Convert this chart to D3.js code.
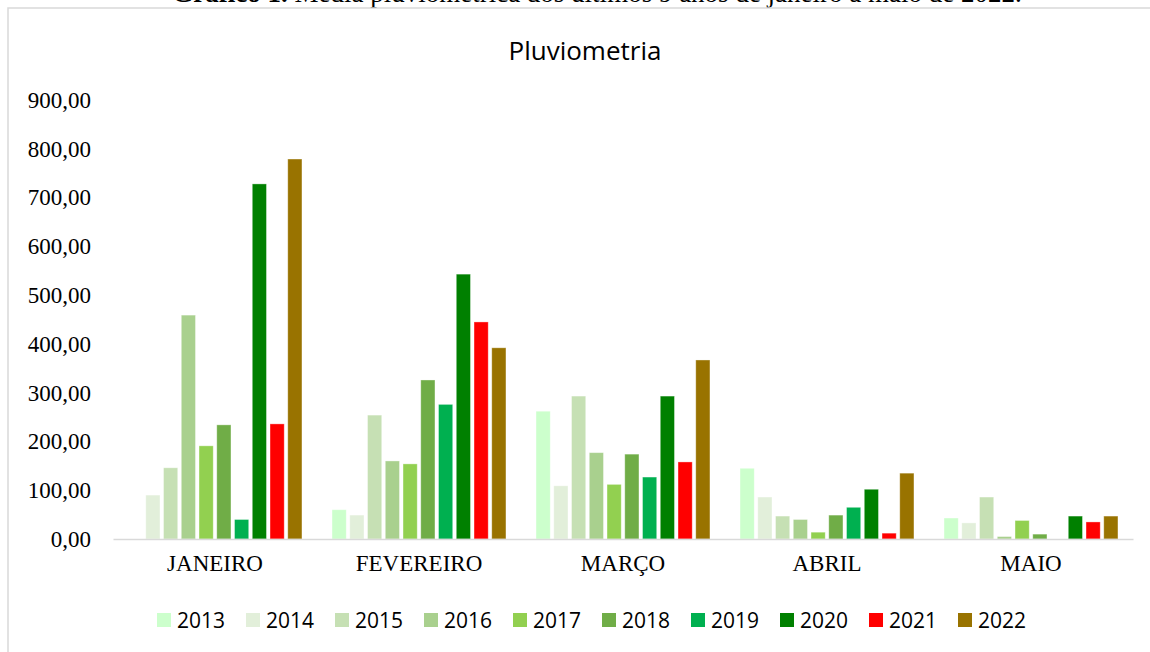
<!DOCTYPE html>
<html lang="pt">
<head>
<meta charset="utf-8">
<script src="https://d3js.org/d3.v7.min.js"></script>
<style>
  body { margin: 0; background: #fff; }
  svg { display: block; }
</style>
</head>
<body>
<svg width="1150" height="652"></svg>
<script>
// months and years
var meses = ["JANEIRO", "FEVEREIRO", "MARÇO", "ABRIL", "MAIO"];
var anos = ["2013", "2014", "2015", "2016", "2017", "2018", "2019", "2020", "2021", "2022"];
var yTicks = [0, 100, 200, 300, 400, 500, 600, 700, 800, 900];

// rainfall per year, jan..may
var v2013 = [0, 60, 262, 145, 43];
var v2014 = [90, 49, 109, 86, 33];
var v2015 = [146, 254, 293, 47, 86];
var v2016 = [459, 160, 177, 40, 5];
var v2017 = [191, 154, 112, 14, 38];
var v2018 = [234, 326, 174, 49, 10];
var v2019 = [40, 276, 127, 65, 0];
var v2020 = [728, 543, 293, 102, 47];
var v2021 = [236, 445, 158, 12, 35];
var v2022 = [779, 392, 367, 135, 47];

var cores = ["#ccffcc", "#e2efda", "#c6e0b4", "#a9d08e", "#92d050", "#70ad47", "#00b050", "#008000", "#ff0000", "#997300"];

var series = [v2013, v2014, v2015, v2016, v2017, v2018, v2019, v2020, v2021, v2022];

var svg = d3.select("svg");

// caption above the chart frame (cut at the top, as in the source page)
var cap = svg.append("text")
  .attr("x", 597).attr("y", 2)
  .attr("text-anchor", "middle")
  .style("font-family", "'Liberation Serif', 'Times New Roman', serif")
  .style("font-size", "27px")
  .attr("fill", "#000");
cap.append("tspan").style("font-weight", "bold").text("Gráfico 1.");
cap.append("tspan").text(" Média pluviométrica dos últimos 9 anos de janeiro a maio de 2022.");

// chart frame
svg.append("rect")
  .attr("x", 8).attr("y", 8)
  .attr("width", 1160).attr("height", 660)
  .attr("fill", "#fff")
  .attr("stroke", "#d9d9d9").attr("stroke-width", 1.5);

svg.append("text")
  .attr("x", 585).attr("y", 60)
  .attr("text-anchor", "middle")
  .style("font-family", "'Open Sans', sans-serif")
  .style("font-size", "26px")
  .attr("fill", "#000")
  .text("Pluviometria");

var x0 = d3.scaleBand().domain(meses).range([113, 1133]).paddingInner(0.13).paddingOuter(0.065);
var x1 = d3.scaleBand().domain(anos).range([0, x0.bandwidth()]).paddingInner(0.2).paddingOuter(0.1);
var y = d3.scaleLinear().domain([0, 900]).range([539, 100]);

var fmt = function(d) { return d3.format(".2f")(d).replace(".", ","); };

// y axis labels only
var yAxis = svg.append("g")
  .attr("transform", "translate(91,0)")
  .call(d3.axisLeft(y).tickValues(yTicks).tickFormat(fmt).tickSize(0).tickPadding(0));
yAxis.select(".domain").remove();
yAxis.selectAll("text")
  .style("font-family", "'Liberation Serif', 'Times New Roman', serif")
  .style("font-size", "23px")
  .attr("fill", "#000");

// bars
var grupos = svg.append("g").selectAll("g")
  .data(anos)
  .join("g")
  .attr("fill", function(d, i) { return cores[i]; });

grupos.selectAll("rect")
  .data(function(d, i) { return series[i].map(function(v, j) { return { ano: d, mes: meses[j], v: v }; }); })
  .join("rect")
  .attr("x", function(d) { return x0(d.mes) + x1(d.ano); })
  .attr("width", x1.bandwidth())
  .attr("y", function(d) { return y(d.v); })
  .attr("height", function(d) { return y(0) - y(d.v); })
  .attr("stroke", "#fff").attr("stroke-opacity", 0.45).attr("stroke-width", 0.8);

// x axis
var xAxis = svg.append("g")
  .attr("transform", "translate(0,539)")
  .call(d3.axisBottom(x0).tickSize(0).tickPadding(16).tickSizeOuter(0));
xAxis.select(".domain").attr("stroke", "#d9d9d9").attr("stroke-width", 1.5);
xAxis.selectAll("text")
  .style("font-family", "'Liberation Serif', 'Times New Roman', serif")
  .style("font-size", "23px")
  .attr("fill", "#000");

// legend
var leg = svg.append("g").selectAll("g")
  .data(anos)
  .join("g")
  .attr("transform", function(d, i) { return "translate(" + (157 + i * 89) + ",620)"; });
leg.append("rect")
  .attr("x", 0).attr("y", -7).attr("width", 14).attr("height", 14)
  .attr("fill", function(d, i) { return cores[i]; });
leg.append("text")
  .attr("x", 20).attr("y", 0).attr("dy", "0.36em")
  .style("font-family", "'Open Sans', sans-serif")
  .style("font-size", "21px")
  .attr("fill", "#000")
  .text(function(d) { return d; });
</script>
</body>
</html>
